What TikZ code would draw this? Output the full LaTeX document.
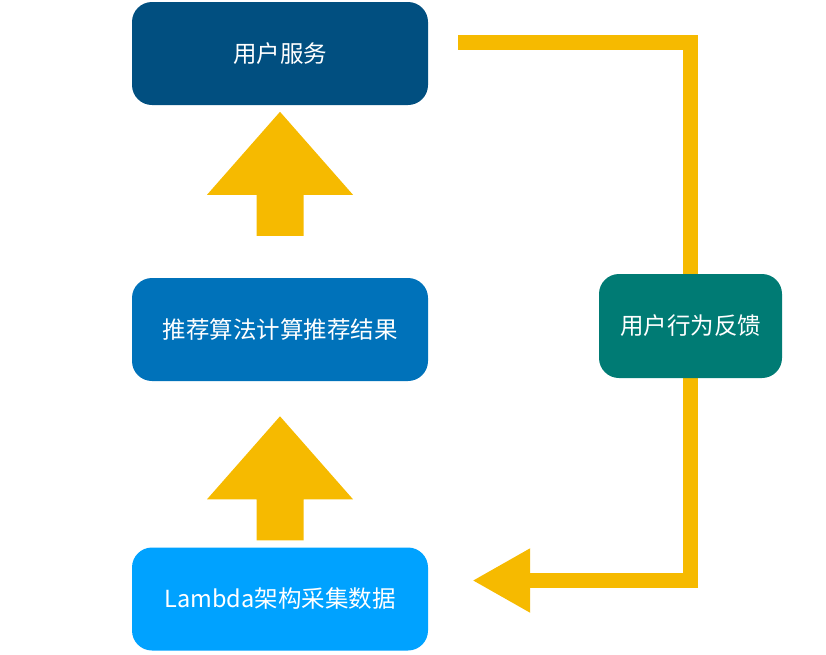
\documentclass[tikz,border=0pt]{standalone}
\usepackage{fontspec}
\newfontfamily\cjk{Noto Sans CJK SC}
\usetikzlibrary{arrows.meta,positioning,calc}

\definecolor{svcblue}{RGB}{1,79,128}
\definecolor{recblue}{RGB}{0,114,186}
\definecolor{lamblue}{RGB}{0,162,255}
\definecolor{fbteal}{RGB}{0,123,116}
\definecolor{flowyellow}{RGB}{246,186,0}

\tikzset{
  box/.style={rounded corners=20pt,minimum width=296pt,minimum height=103pt,inner sep=0pt,
    text=white,font=\cjk\fontsize{23.5}{27}\selectfont},
  flow/.style={fill=flowyellow},
}

\begin{document}
\begin{tikzpicture}[x=1pt,y=-1pt]
  \useasboundingbox (0,0) rectangle (826,654); % 画面范围
  \node[box,fill=svcblue] (svc) at (280,53.5) {用户服务}; % 顶部：用户服务
  \node[box,fill=recblue] (rec) at (280,329.5) {推荐算法计算推荐结果}; % 中部：推荐计算
  \node[box,fill=lamblue] (lam) at (280,599) {Lambda架构采集数据}; % 底部：数据采集
  \foreach \from/\gap in {lam/7,rec/42} { % 向上的粗箭头
    \fill[flow] ($(\from.north)+(-23.5,-\gap)$) -- ++(0,-41) -- ++(-49.5,0) -- ++(73,-83)
      -- ++(73,83) -- ++(-49.5,0) -- ++(0,41) -- cycle;
  }
  \coordinate (fbstart) at ($(svc.east)+(30,-11)$); % 反馈线起点
  \coordinate (fbend) at ($(lam.east)+(44,-18.5)$); % 反馈线终点（箭头尖）
  \draw[flowyellow,line width=15pt,line join=miter,-{Triangle[length=58pt,width=60pt]}]
    (fbstart) -| (690.5,580.5) -- (fbend); % 反馈回路
  \node[box,fill=fbteal,minimum width=183pt,minimum height=104pt] (fb) at (690.5,326) {用户行为反馈}; % 右侧：用户行为反馈
\end{tikzpicture}
\end{document}
